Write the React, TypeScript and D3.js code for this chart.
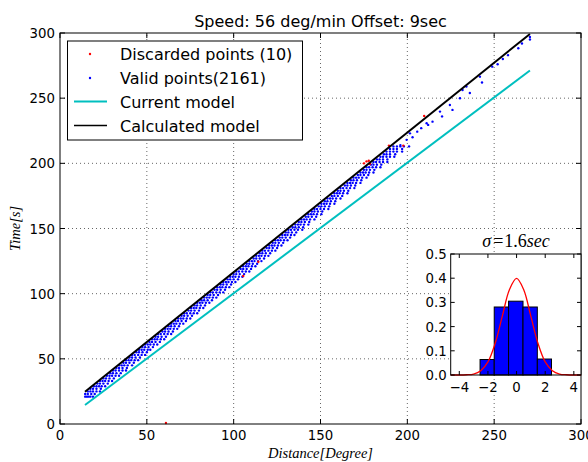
import React from "react";
import * as d3 from "d3";

// main plot data
const xTicks = [0, 50, 100, 150, 200, 250, 300];
const yTicks = [0, 50, 100, 150, 200, 250, 300];

// model lines, endpoints [distance, time]
const currentModel = [[14.4, 14.6], [270.6, 271.2]];
const calculatedModel = [[14.4, 24.8], [270.6, 299.3]];

// valid points, grouped in horizontal runs: [time, ...distances]
const validRuns = [
  [21, 14.5, 15.5, 16.5, 17.5, 19],
  [25, 16, 17.5, 19, 21, 23],
  [29, 19.5, 21, 22.5, 24, 26],
  [33, 23, 24.5, 26, 28, 30],
  [37, 27, 28.5, 30, 32, 34],
  [41, 30.5, 32, 34, 36, 38],
  [45, 34, 35.5, 37, 39, 41.5],
  [49, 38, 39.5, 41, 43, 45],
  [53, 41.5, 43, 45, 47, 49],
  [57, 45.5, 47, 48.5, 50.5, 52],
  [61, 49, 50.5, 52, 54, 56],
  [65, 53, 54.5, 56, 58, 60],
  [69, 56.5, 58, 60, 62, 64],
  [73, 60.5, 62, 63.5, 65.5, 67.5],
  [77, 64, 65.5, 67, 69, 71],
  [81, 68, 69.5, 71, 73, 75],
  [85, 71.5, 73, 75, 77, 79],
  [89, 75.5, 77, 78.5, 80.5, 82.5],
  [93, 79, 80.5, 82, 84, 86],
  [97, 83, 84.5, 86, 88, 90],
  [101, 86.5, 88, 90, 92, 94],
  [105, 90.5, 92, 93.5, 95.5, 97.5],
  [109, 94, 95.5, 97, 99, 101],
  [113, 98, 99.5, 101, 103, 105],
  [117, 101.5, 103, 105, 107, 109],
  [121, 105.5, 107, 108.5, 110.5, 112.5],
  [125, 109, 110.5, 112, 114, 116],
  [129, 113, 114.5, 116, 118, 120],
  [133, 116.5, 118, 120, 122, 124],
  [137, 120.5, 122, 123.5, 125.5, 127.5],
  [141, 124, 125.5, 127, 129, 131],
  [145, 128, 129.5, 131, 133, 135],
  [149, 131.5, 133, 135, 137, 139.5],
  [153, 135.5, 137, 138.5, 140.5, 143],
  [157, 139, 140.5, 142, 144, 146.5],
  [161, 143, 144.5, 146, 148, 150.5],
  [165, 146.5, 148, 150, 152, 154.5],
  [169, 150.5, 152, 153.5, 155.5, 158],
  [173, 154, 155.5, 157, 159, 161.5],
  [177, 158, 159.5, 161, 163, 165.5],
  [181, 161.5, 163, 165, 167, 169.5],
  [185, 165.5, 167, 168.5, 170.5, 173],
  [189, 169, 170.5, 172, 174, 176.5],
  [193, 173, 174.5, 176, 178, 180.5],
  [197, 176.5, 178, 180, 182, 184.5],
  [201, 180.5, 182, 184, 186, 188.5],
  [205, 184.5, 186, 188, 190, 192.5],
  [209, 188, 190, 192, 194, 197],
  [213, 192, 194, 196, 198, 201],
];

// second family of runs, between the ones above
const validRunsB = [
  [23, 14.5, 16, 18, 20],
  [27, 17.5, 19, 21, 23.5],
  [31, 21.5, 23, 25, 27.5],
  [35, 25, 26.5, 28.5, 31],
  [39, 29, 30.5, 32.5, 35],
  [43, 32.5, 34, 36, 38.5],
  [47, 36.5, 38, 40, 42.5],
  [51, 40, 41.5, 43.5, 46],
  [55, 44, 45.5, 47.5, 50],
  [59, 47.5, 49, 51, 53.5],
  [63, 51.5, 53, 55, 57.5],
  [67, 55, 56.5, 58.5, 61],
  [71, 59, 60.5, 62.5, 65],
  [75, 62.5, 64, 66, 68.5],
  [79, 66.5, 68, 70, 72.5],
  [83, 70, 71.5, 73.5, 76],
  [87, 74, 75.5, 77.5, 80],
  [91, 77.5, 79, 81, 83.5],
  [95, 81.5, 83, 85, 87.5],
  [99, 85, 86.5, 88.5, 91],
  [103, 89, 90.5, 92.5, 95],
  [107, 92.5, 94, 96, 98.5],
  [111, 96.5, 98, 100, 102.5],
  [115, 100, 101.5, 103.5, 106],
  [119, 104, 105.5, 107.5, 110],
  [123, 107.5, 109, 111, 113.5],
  [127, 111.5, 113, 115, 117.5],
  [131, 115, 116.5, 118.5, 121],
  [135, 119, 120.5, 122.5, 125],
  [139, 122.5, 124, 126, 128.5],
  [143, 126.5, 128, 130, 132.5],
  [147, 130, 131.5, 133.5, 136],
  [151, 134, 135.5, 137.5, 140],
  [155, 137.5, 139, 141, 143.5],
  [159, 141.5, 143, 145, 147.5],
  [163, 145, 146.5, 148.5, 151],
  [167, 149, 150.5, 152.5, 155],
  [171, 152.5, 154, 156, 158.5],
  [175, 156.5, 158, 160, 162.5],
  [179, 160, 161.5, 163.5, 166],
  [183, 164, 165.5, 167.5, 170],
  [187, 167.5, 169, 171, 173.5],
  [191, 171.5, 173, 175, 177.5],
  [195, 175, 176.5, 178.5, 181],
  [199, 179, 180.5, 182.5, 185],
  [203, 182.5, 184, 186, 188.5],
  [207, 186.5, 188, 190, 193],
  [211, 190, 192, 194, 197],
];

// sparse valid points near the top end [distance, time]
const validSparse = [
  [196, 214], [199.6, 218], [201.5, 223], [203, 220], [205.7, 224.3],
  [208, 227], [211.1, 230.7], [212, 229.5], [214.5, 232], [218.8, 239.7],
  [220, 236], [224.5, 244.8], [226, 241], [230.3, 249.9], [231.8, 256.3],
  [234, 258.9], [236, 254], [241.8, 266.5], [243, 262], [248.9, 274.2],
  [252, 276], [255, 280], [258, 283], [263.9, 288.3], [266, 292],
  [270.6, 295], [270.6, 297],
];

// discarded points [distance, time]
const discarded = [
  [61, 0.8], [105.5, 113.6], [114.2, 124.5], [175, 200], [176.5, 201.5],
  [177.8, 202], [178.5, 199.5], [189.4, 213.6], [197.7, 213.6], [209.7, 236.4],
];

// inset histogram
const binEdges = [-2.55, -1.56, -0.56, 0.45, 1.45, 2.44];
const binHeights = [0.064, 0.281, 0.305, 0.281, 0.066];
const curveX = [-4.6, -4, -3.5, -3, -2.5, -2, -1.5, -1, -0.5, 0, 0.5, 1, 1.5, 2, 2.5, 3, 3.5, 4, 4.5];
const curveY = [0, 0, 0.001, 0.004, 0.018, 0.054, 0.13, 0.242, 0.352, 0.399, 0.352, 0.242, 0.13, 0.054, 0.018, 0.004, 0.001, 0, 0];
const insetXTicks = [-4, -2, 0, 2, 4];
const insetYTicks = [0, 0.1, 0.2, 0.3, 0.4, 0.5];

const font = "DejaVu Sans";
const mathFont = "Liberation Serif";

export default function App() {
  const x = d3.scaleLinear().domain([0, 300]).range([60, 581]);
  const y = d3.scaleLinear().domain([0, 300]).range([424, 33]);
  const ix = d3.scaleLinear().domain([-4.6, 4.5]).range([450.7, 581]);
  const iy = d3.scaleLinear().domain([0, 0.5]).range([375, 254]);

  const validPoints: number[][] = [];
  validRuns.concat(validRunsB).forEach((run) => {
    run.slice(1).forEach((d) => validPoints.push([d, run[0]]));
  });
  validSparse.forEach((p) => validPoints.push(p));

  const line = d3.line<number[]>().x((d) => x(d[0])).y((d) => y(d[1]));
  const normal = d3
    .line<number>()
    .x((d, i) => ix(curveX[i]))
    .y((d) => iy(d))
    .curve(d3.curveCatmullRom);

  const [x0, x1] = x.range();
  const [y0, y1] = y.range();
  const tick = 5;

  return (
    <svg width={588} height={462} style={{ position: "absolute", left: 0, top: 0 }} fontFamily={font}>
      <rect width={588} height={462} fill="#fff" />

      {/* grid */}
      <g stroke="#000" strokeOpacity={0.6} strokeWidth={1} strokeDasharray="1,3">
        {xTicks.slice(1, -1).map((t) => (
          <line key={"gx" + t} x1={x(t)} x2={x(t)} y1={y0} y2={y1} />
        ))}
        {yTicks.slice(1, -1).map((t) => (
          <line key={"gy" + t} x1={x0} x2={x1} y1={y(t)} y2={y(t)} />
        ))}
      </g>

      {/* points */}
      <g fill="#0000ff">
        {validPoints.map((p, i) => (
          <circle key={"v" + i} cx={x(p[0])} cy={y(p[1])} r={1.2} />
        ))}
      </g>
      <g fill="#ff0000">
        {discarded.map((p, i) => (
          <circle key={"d" + i} cx={x(p[0])} cy={y(p[1])} r={1.2} />
        ))}
      </g>

      {/* models */}
      <path d={line(currentModel) ?? ""} fill="none" stroke="#00bfbf" strokeWidth={2} />
      <path d={line(calculatedModel) ?? ""} fill="none" stroke="#000" strokeWidth={2} />

      {/* frame and ticks */}
      <rect x={x0} y={y1} width={x1 - x0} height={y0 - y1} fill="none" stroke="#000" strokeWidth={1} />
      <g stroke="#000" strokeWidth={1}>
        {xTicks.map((t) => (
          <g key={"tx" + t}>
            <line x1={x(t)} x2={x(t)} y1={y0} y2={y0 - tick} />
            <line x1={x(t)} x2={x(t)} y1={y1} y2={y1 + tick} />
          </g>
        ))}
        {yTicks.map((t) => (
          <g key={"ty" + t}>
            <line x1={x0} x2={x0 + tick} y1={y(t)} y2={y(t)} />
            <line x1={x1} x2={x1 - tick} y1={y(t)} y2={y(t)} />
          </g>
        ))}
      </g>
      <g fontSize={13.3} fill="#000">
        {xTicks.map((t) => (
          <text key={"lx" + t} x={x(t)} y={y0 + 16} textAnchor="middle">{t}</text>
        ))}
        {yTicks.map((t) => (
          <text key={"ly" + t} x={x0 - 5} y={y(t) + 5} textAnchor="end">{t}</text>
        ))}
      </g>

      {/* title and axis labels */}
      <text x={(x0 + x1) / 2} y={27} textAnchor="middle" fontSize={16}>Speed: 56 deg/min Offset: 9sec</text>
      <text x={(x0 + x1) / 2} y={458} textAnchor="middle" fontSize={14.5} fontFamily={mathFont} fontStyle="italic">Distance[Degree]</text>
      <text transform={`translate(20,${(y0 + y1) / 2}) rotate(-90)`} textAnchor="middle" fontSize={14.5} fontFamily={mathFont} fontStyle="italic">Time[s]</text>

      {/* legend */}
      <g>
        <rect x={67.5} y={41} width={235} height={99} fill="#fff" stroke="#000" strokeWidth={1} />
        <circle cx={90} cy={54} r={1.2} fill="#ff0000" />
        <circle cx={90} cy={78} r={1.2} fill="#0000ff" />
        <line x1={74} x2={107} y1={101.5} y2={101.5} stroke="#00bfbf" strokeWidth={2} />
        <line x1={74} x2={107} y1={125.5} y2={125.5} stroke="#000" strokeWidth={1.5} />
        <g fontSize={16}>
          <text x={120} y={60}>Discarded points (10)</text>
          <text x={120} y={84}>Valid points(2161)</text>
          <text x={120} y={107.5}>Current model</text>
          <text x={120} y={131.5}>Calculated model</text>
        </g>
      </g>

      {/* inset histogram */}
      <g>
        <rect x={ix.range()[0]} y={iy(0.5)} width={ix.range()[1] - ix.range()[0]} height={iy(0) - iy(0.5)} fill="#fff" />
        {binHeights.map((h, i) => (
          <rect
            key={"b" + i}
            x={ix(binEdges[i])}
            y={iy(h)}
            width={ix(binEdges[i + 1]) - ix(binEdges[i])}
            height={iy(0) - iy(h)}
            fill="#0000ff"
            stroke="#000"
            strokeWidth={1}
          />
        ))}
        <path d={normal(curveY) ?? ""} fill="none" stroke="#ff0000" strokeWidth={1.3} />
        <rect x={ix.range()[0]} y={iy(0.5)} width={ix.range()[1] - ix.range()[0]} height={iy(0) - iy(0.5)} fill="none" stroke="#000" strokeWidth={1} />
        <g stroke="#000" strokeWidth={1}>
          {insetXTicks.map((t) => (
            <g key={"itx" + t}>
              <line x1={ix(t)} x2={ix(t)} y1={iy(0)} y2={iy(0) - 4} />
              <line x1={ix(t)} x2={ix(t)} y1={iy(0.5)} y2={iy(0.5) + 4} />
            </g>
          ))}
          {insetYTicks.map((t) => (
            <g key={"ity" + t}>
              <line x1={ix.range()[0]} x2={ix.range()[0] + 4} y1={iy(t)} y2={iy(t)} />
              <line x1={ix.range()[1]} x2={ix.range()[1] - 4} y1={iy(t)} y2={iy(t)} />
            </g>
          ))}
        </g>
        <g fontSize={13.3}>
          {insetXTicks.map((t) => (
            <text key={"ilx" + t} x={ix(t)} y={iy(0) + 17} textAnchor="middle">{t < 0 ? "\u2212" + Math.abs(t) : t}</text>
          ))}
          {insetYTicks.map((t) => (
            <text key={"ily" + t} x={ix.range()[0] - 4} y={iy(t) + 5} textAnchor="end">{t.toFixed(1)}</text>
          ))}
        </g>
        <text x={516} y={247} textAnchor="middle" fontSize={18} fontFamily={mathFont}>
          <tspan fontStyle="italic">σ</tspan>
          <tspan dx={2}>=</tspan>
          <tspan dx={1}>1.6</tspan>
          <tspan fontStyle="italic">sec</tspan>
        </text>
      </g>
    </svg>
  );
}
